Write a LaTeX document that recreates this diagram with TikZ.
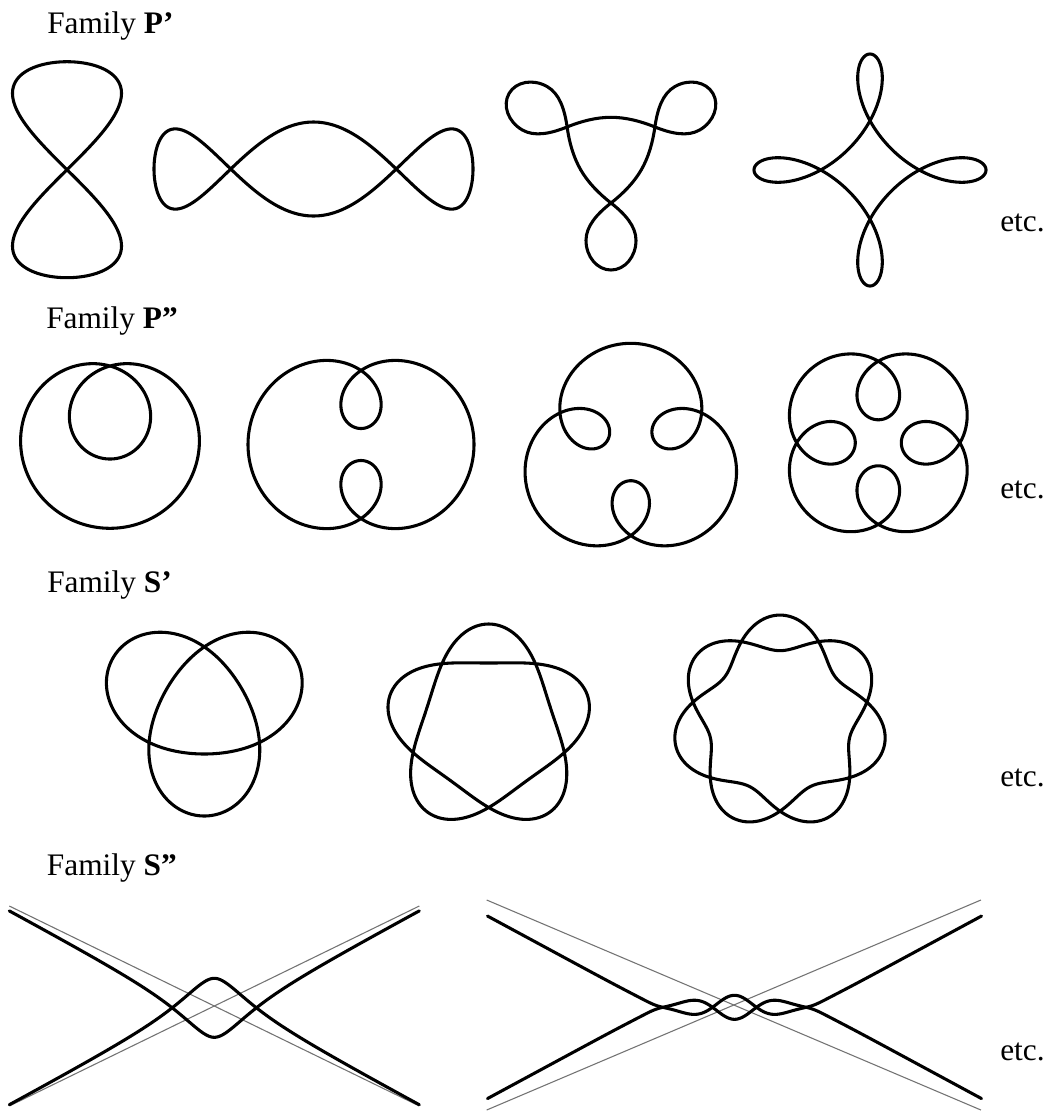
\documentclass[tikz,border=0pt]{standalone}
\usepackage{fontspec}
\setmainfont{Liberation Serif}
\begin{document}
\begin{tikzpicture}[x=0.75pt,y=-0.75pt,
  curve/.style={line width=2.3pt, line join=round, line cap=round, black},
  asym/.style={line width=0.8pt, black!55},
  lbl/.style={anchor=base west, inner sep=0pt, font=\fontsize{23.5}{28}\selectfont},
  declare function={
    spl(\z)=max(\z,0)+ln(1+exp(0-abs(\z)));
    gA(\z)=12.9-53.9*sqrt(((\z)/100)*((\z)/100)+0.01)+22/(1+((\z)/40)*((\z)/40));
    TB(\z)=0-0.54*4*(spl(((\z)-78)/4)+spl((0-(\z)-78)/4));
    WB(\z)=0-12*cos(deg(0.0722*(\z)-1.668*((\z)/100)*((\z)/100)*((\z)/100)))*exp(0-((\z)/58.9)*((\z)/58.9));
  }]
\useasboundingbox (0,0) rectangle (1049,1111);
\fill[white] (0,0) rectangle (1049,1111);

% labels
\node[lbl] (lp1) at (47,33) {Family \textbf{P’}};
\node[lbl] (lp2) at (46,328.3) {Family \textbf{P”}};
\node[lbl] (ls1) at (47,592) {Family \textbf{S’}};
\node[lbl] (ls2) at (46.7,875) {Family \textbf{S”}};
\node[lbl] (e1) at (1000,231) {etc.};
\node[lbl] (e2) at (1000,498) {etc.};
\node[lbl] (e3) at (1000,786) {etc.};
\node[lbl] (e4) at (1000,1060) {etc.};

% ---- Family P'
\draw[curve] plot[variable=\t, domain=0:360, samples=241] ({67+54.5*sin(2*\t)}, {169.7+108*sin(\t)}) -- cycle;
\draw[curve] plot[variable=\t, domain=0:360, samples=361] ({313.5+159.5*sin(\t)*(1+0.05*cos(\t)*cos(\t))}, {169-(47-9.3*sin(\t)*sin(\t))*cos(3*\t)}) -- cycle;
\begin{scope}[shift={(611,152.3)}, yscale=-1]
\foreach \r in {0,120,240}{
  \draw[curve, rotate=\r] (-30.31,-17.5) .. controls +(-60:15) and +(142:15) .. (0,-50.7)
     .. controls +(-38:18) and +(90:14) .. (25,-88)
     .. controls +(-90:16.4) and +(0:13.8) .. (0,-117.7)
     .. controls +(180:13.8) and +(-90:16.4) .. (-25,-88)
     .. controls +(90:14) and +(218:18) .. (0,-50.7)
     .. controls +(38:15) and +(240:15) .. (30.31,-17.5);
}
\end{scope}
\draw[curve] plot[variable=\t, domain=0:360, samples=361] ({870+73*cos(\t)+43*cos(3*\t)}, {170+73*sin(\t)-43*sin(3*\t)}) -- cycle;

% ---- Family P''
\draw[curve] plot[variable=\t, domain=0:360, samples=361] ({110+(34.65+127.65*cos(\t))*sin(\t)}, {366+(34.65+127.65*cos(\t))*cos(\t)}) -- cycle;
\draw[curve] plot[variable=\t, domain=0:360, samples=361] ({361+64.5*cos(\t)+48.5*cos(3*\t)}, {444.5+64.5*sin(\t)+48.5*sin(3*\t)}) -- cycle;
\draw[curve] plot[variable=\t, domain=0:360, samples=361] ({630.8-68.7*sin(\t)-41.8*sin(4*\t)}, {453.8-68.7*cos(\t)-41.8*cos(4*\t)}) -- cycle;
\draw[curve] plot[variable=\t, domain=0:360, samples=361] ({878.3+61.5*cos(\t+45)+38.5*cos(5*\t+45)}, {442.8+61.5*sin(\t+45)+38.5*sin(5*\t+45)}) -- cycle;

% ---- Family S'
\draw[curve] plot[variable=\t, domain=0:360, samples=361] ({204.3+74.4*sin(2*\t)-26*sin(\t)+5*sin(5*\t)}, {710.6+74.4*cos(2*\t)+26*cos(\t)+5*cos(5*\t)}) -- cycle;
\draw[curve] plot[variable=\t, domain=0:360, samples=481] ({488.7-84.5*sin(2*\t)+14.5*sin(3*\t)-5*sin(7*\t)}, {728-84.5*cos(2*\t)-14.5*cos(3*\t)-5*cos(7*\t)}) -- cycle;
\draw[curve] plot[variable=\t, domain=0:360, samples=601] ({780-89.15*sin(2*\t)+8.9*sin(5*\t)-8.9*sin(9*\t)}, {722-89.15*cos(2*\t)-8.9*cos(5*\t)-8.9*cos(9*\t)}) -- cycle;

% ---- Family S''
\coordinate (a1) at (9.3,906);   \coordinate (a2) at (419.3,1106);
\coordinate (a3) at (9.3,1106);  \coordinate (a4) at (419.3,906);
\draw[asym] (a1) -- (a2);
\draw[asym] (a3) -- (a4);
\draw[curve] plot[variable=\u, domain=-205:205, samples=241] ({214.3+\u}, {1007.8+gA(\u)});
\draw[curve] plot[variable=\u, domain=-205:205, samples=241] ({214.3+\u}, {1007.8-gA(\u)});

\coordinate (b1) at (486.7,900);  \coordinate (b2) at (980.9,1110);
\coordinate (b3) at (486.7,1110); \coordinate (b4) at (980.9,900);
\draw[asym] (b1) -- (b2);
\draw[asym] (b3) -- (b4);
\draw[curve] plot[variable=\u, domain=-247:247, samples=321] ({734.5+\u}, {1007.3+TB(\u)+WB(\u)});
\draw[curve] plot[variable=\u, domain=-247:247, samples=321] ({734.5+\u}, {1007.3-TB(\u)-WB(\u)});
\end{tikzpicture}
\end{document}
